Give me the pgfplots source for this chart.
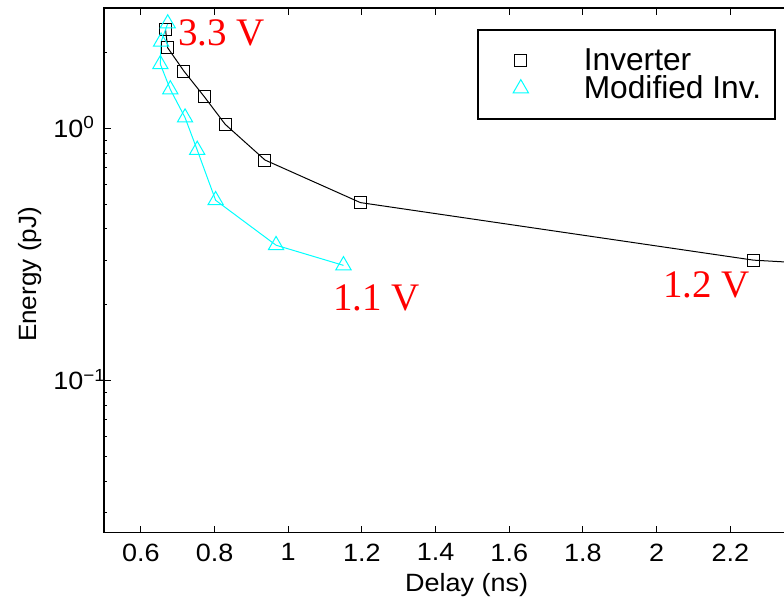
\documentclass[border=0pt]{standalone}
\usepackage{fontspec}
\setmainfont{Liberation Sans}
\newfontfamily\timesfont{Liberation Serif}
\newfontfamily\axfont{Liberation Sans}[FakeStretch=1.08]
\newfontfamily\yfont{Liberation Sans}[FakeStretch=1.045]
\usepackage{pgfplots}
\pgfplotsset{compat=1.18}
\definecolor{mcyan}{RGB}{0,255,255}
\begin{document}
\begin{tikzpicture}
\path[use as bounding box, clip] (-52pt,-33.15pt) rectangle (340pt,266.35pt);
\begin{axis}[
  scale only axis,
  width=350pt, height=262.2pt,
  xmin=0.5, xmax=2.4,
  ymode=log, ymin=0.025, ymax=3,
  axis line style={line width=0.8pt},
  tick style={line width=0.5pt, black},
  major tick length=3.3pt,
  minor tick length=1.7pt,
  tick align=inside,
  xtick={0.6,0.8,1,1.2,1.4,1.6,1.8,2,2.2},
  xticklabels={0.6,0.8,1,1.2,1.4,1.6,1.8,2,2.2},
  ytick={0.1,1},
  yticklabels={10\textsuperscript{−1},10\textsuperscript{0}},
  minor ytick={0.03,0.04,0.05,0.06,0.07,0.08,0.09,0.2,0.3,0.4,0.5,0.6,0.7,0.8,0.9,2},
  xtick pos=both, ytick pos=left,
  /pgf/number format/assume math mode=true,
  ticklabel style={font=\axfont\fontsize{12.5pt}{14pt}\selectfont},
  xticklabel style={anchor=north, inner sep=0pt, yshift=-5.3pt},
  yticklabel style={anchor=base west, inner sep=0pt, xshift=-25.5pt, yshift=-4.5pt},
  xlabel={Delay (ns)},
  ylabel={Energy (pJ)},
  xlabel style={font=\axfont\fontsize{12.5pt}{14pt}\selectfont, at={(axis description cs:0.518,0)}, anchor=north, inner sep=0pt, yshift=-20.3pt},
  ylabel style={font=\yfont\fontsize{12.5pt}{14pt}\selectfont, at={(axis description cs:0,0.4924)}, anchor=base, inner sep=0pt, yshift=33.65pt},
  legend style={at={(axis description cs:1,1)}, anchor=north east, xshift=-14pt, yshift=-10.35pt,
    draw=black, line width=0.8pt, inner xsep=7pt, inner ysep=8.8pt,
    font=\fontsize{15.85pt}{18pt}\selectfont, column sep=21.5pt, row sep=1pt,
    nodes={inner sep=0pt, text height=11.8pt, text depth=1.2pt}},
  legend cell align=left,
  legend image code/.code={\path[draw=none, fill=none] (-14.5pt,0pt) rectangle (10pt,0pt); \draw[#1] plot[only marks] coordinates {(0pt,0pt)};},
]
\addlegendimage{black, mark=square, mark size=3pt, mark options={line width=0.5pt}}
\addlegendentry{Inverter}
\addlegendimage{mcyan, mark=triangle, mark size=4.4pt, mark options={line width=0.5pt}}
\addlegendentry{Modified Inv.}
\addplot[forget plot, black, line width=0.5pt, mark=square, mark size=3pt, mark options={line width=0.5pt}] coordinates {
  (0.667,2.47) (0.673,2.09) (0.717,1.69) (0.772,1.34) (0.829,1.04)
  (0.937,0.751) (1.196,0.509) (2.263,0.301) (3.0,0.261)
};
\addplot[forget plot, mcyan, line width=0.5pt, mark=triangle, mark size=4.4pt, mark options={line width=0.5pt}] coordinates {
  (0.673,2.61) (0.655,2.21) (0.653,1.80) (0.680,1.43) (0.720,1.106)
  (0.753,0.823) (0.803,0.520) (0.967,0.345) (1.150,0.287)
};
\node[anchor=base west, inner sep=0pt, text=red, font=\timesfont\fontsize{19.5pt}{22pt}\selectfont] at (axis cs:0.7008,2.138) {3.3 V};
\node[anchor=base west, inner sep=0pt, text=red, font=\timesfont\fontsize{19.5pt}{22pt}\selectfont] at (axis cs:1.121,0.19) {1.1 V};
\node[anchor=base west, inner sep=0pt, text=red, font=\timesfont\fontsize{19.5pt}{22pt}\selectfont] at (axis cs:2.0166,0.2147) {1.2 V};
\end{axis}
\end{tikzpicture}
\end{document}
